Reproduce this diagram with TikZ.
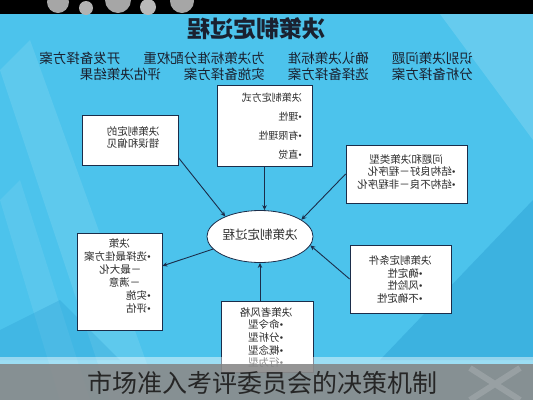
\documentclass[tikz,border=0pt]{standalone}
\usepackage{fontspec}
\usepackage{graphicx}
\setmainfont{Noto Sans CJK SC}
\newfontfamily\latinf{Liberation Serif}
\usetikzlibrary{arrows.meta,shapes.geometric}
\definecolor{bgblue}{HTML}{4CC3EC}
\definecolor{bgdark}{HTML}{2A9ED3}
\definecolor{navy}{HTML}{1B2D4A}
\definecolor{inkc}{HTML}{1A2130}
\definecolor{boxtxt}{HTML}{2E2E2E}
\definecolor{bandgray}{HTML}{8C8C8C}
\definecolor{captxt}{HTML}{262626}
\newcommand{\mirt}[4]{\reflectbox{\fontsize{#2}{#3}\selectfont\begin{tabular}{@{}#1@{}}#4\end{tabular}}}
\newcommand{\bul}{{\latinf •}}
\begin{document}
\begin{tikzpicture}[x=1pt,y=-1pt,
  box/.style={draw=navy, line width=0.8pt, fill=white, inner sep=0pt},
  ellbox/.style={ellipse, draw=navy, line width=0.8pt, fill=white, inner sep=0pt, minimum width=96, minimum height=52},
  conn/.style={draw=navy, line width=0.9pt, -{Stealth[length=5pt,width=4.5pt]}},
  lbl/.style={inner sep=0pt, text=boxtxt}]
\useasboundingbox (0,0) rectangle (533,400);
% background
\fill[bgblue] (0,0) rectangle (533,400);
\fill[white, opacity=0.10] (0,70) -- (30,40) -- (160,400) -- (110,400) -- cycle;
\fill[white, opacity=0.08] (0,200) -- (20,180) -- (90,400) -- (60,400) -- cycle;
\fill[white, opacity=0.15] (440,14) -- (533,14) -- (533,140) -- cycle;
\fill[bgdark, opacity=0.45] (533,200) -- (533,360) -- (380,360) -- cycle;
\fill[bgdark, opacity=0.30] (0,330) -- (60,300) -- (120,360) -- (0,360) -- cycle;
% top band
\fill[black] (0,0) rectangle (533,14);
\begin{scope}
\clip (0,0) rectangle (533,14);
\fill[gray!70] (58,2) circle (11);
\fill[gray!60] (86,8) circle (7);
\fill[gray!70] (118,0) circle (13);
\fill[gray!55] (148,7) circle (8);
\fill[gray!70] (182,1) circle (12);
\end{scope}
% title and steps
\node[lbl, text=inkc] (title) at (256,29) {\reflectbox{\fontsize{23}{26}\selectfont\bfseries 决策制定过程}};
\node[lbl, text=inkc, anchor=east] (steps) at (473,68.5) {\mirt{l}{13.5}{15.5}{识别决策问题\hspace{1.7em}确认决策标准\hspace{1.7em}为决策标准分配权重\hspace{1.7em}开发备择方案\\分析备择方案\hspace{1.7em}选择备择方案\hspace{1.7em}实施备择方案\hspace{1.7em}评估决策结果}};
% boxes
\node[box, minimum width=95, minimum height=81] (top) at (264.5,125.5) {};
\node[box, minimum width=96, minimum height=50] (tl) at (130,140) {};
\node[box, minimum width=121, minimum height=58] (rc) at (406.5,174) {};
\node[box, minimum width=85, minimum height=97] (lb) at (119.5,281.5) {};
\node[box, minimum width=101, minimum height=68] (rl) at (400.5,279) {};
\node[box, minimum width=92, minimum height=71] (bt) at (267,336.5) {};
\node[ellbox, text=boxtxt] (ell) at (260,236.5) {\mirt{c}{12.5}{14}{决策制定过程}};
% box texts
\node[lbl, anchor=east] (toptext) at (302,126) {\mirt{l}{10}{19}{决策制定方式\\\bul 理性\\\bul 有限理性\\\bul 直觉}};
\node[lbl] (tltext) at (133,139) {\mirt{c}{10.5}{11}{决策制定的\\错误和偏见}};
\node[lbl] (rctext) at (406.5,173) {\mirt{l}{10.5}{11}{\hspace{1.2em}问题和决策类型\\\bul 结构良好－程序化\\\bul 结构不良－非程序化}};
\node[lbl] (lbtext) at (117.5,277.5) {\mirt{l}{10.5}{13}{\hspace{2em}决策\\\bul 选择最佳方案\\\hspace{0.9em}－最大化\\\hspace{1em}－满意\\\bul 实施\\\bul 评估}};
\node[lbl] (rltext) at (400,281) {\mirt{l}{10.5}{12}{决策制定条件\\\hspace{0.85em}\bul 确定性\\\hspace{0.85em}\bul 风险性\\\hspace{0.85em}\bul 不确定性}};
\node[lbl] (bttext) at (266,339) {\mirt{l}{10.5}{12.5}{决策者风格\\\hspace{0.85em}\bul 命令型\\\hspace{0.85em}\bul 分析型\\\hspace{0.85em}\bul 概念型\\\hspace{0.85em}\bul 行为型}};
% connectors
\draw[conn] (top.south) -- (top.south |- ell.north);
\draw[conn] (tl.-20) -- (ell.150);
\draw[conn] (rc.west) -- (ell.22);
\draw[conn] (ell.195) -- (lb.20);
\draw[conn] (rl.west) -- (ell.-10);
\draw[conn] (bt.north -| ell.south) -- (ell.south);
% bottom band
\fill[white, opacity=0.45] (0,357) rectangle (533,364);
\fill[bandgray, opacity=0.92] (0,364) rectangle (533,400);
\draw[white, opacity=0.15, line width=6pt] (470,368) -- (520,400) (470,400) -- (520,368);
\node[inner sep=0pt, text=captxt] (caption) at (262,383) {\fontsize{25}{28}\selectfont 市场准入考评委员会的决策机制};
\end{tikzpicture}
\end{document}
